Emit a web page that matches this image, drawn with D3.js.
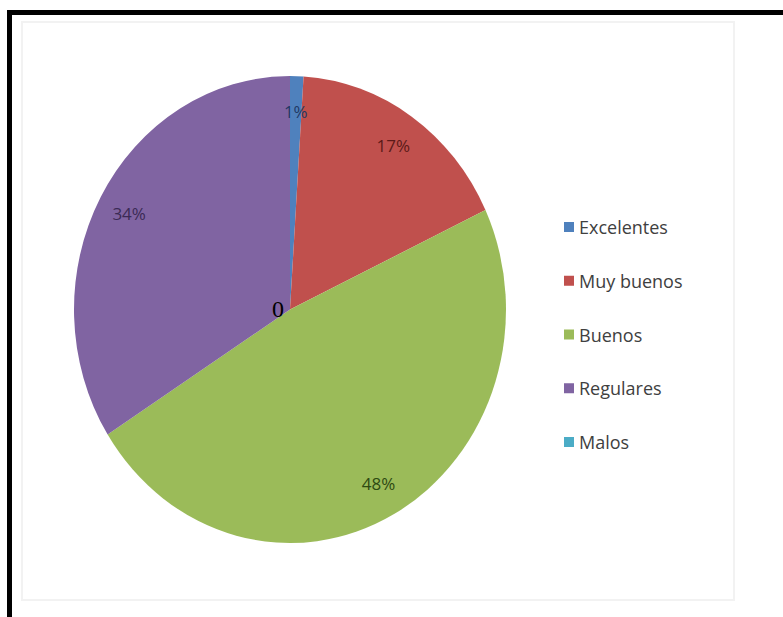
<!DOCTYPE html>
<html>
<head>
<meta charset="utf-8">
<script src="https://cdn.jsdelivr.net/npm/d3@7"></script>
<style>
  html, body { margin: 0; padding: 0; background: #fff; }
  svg { display: block; }
</style>
</head>
<body>
<svg id="chart" width="783" height="617"></svg>
<script>
// Calificaciones: categorías, porcentajes y colores
const categories = ["Excelentes", "Muy buenos", "Buenos", "Regulares", "Malos"];
const values = [1, 17, 48, 34, 0];
const labels = ["1%", "17%", "48%", "34%", "0"];
const colors = ["#4F81BD", "#C0504D", "#9BBB59", "#8064A2", "#4BACC6"];
const labelColors = ["#1F3864", "#5C1A18", "#2E4A12", "#3B2A55", "#000000"];

const svg = d3.select("#chart");

// Marco exterior
svg.append("path")
  .attr("d", "M9.5,617 L9.5,12.5 L783,12.5")
  .attr("fill", "none")
  .attr("stroke", "#000")
  .attr("stroke-width", 5);

// Borde tenue del área del gráfico
svg.append("rect")
  .attr("x", 22).attr("y", 22)
  .attr("width", 712).attr("height", 578)
  .attr("fill", "none")
  .attr("stroke", "#f2f2f2")
  .attr("stroke-width", 2);

// Pastel elíptico: radio vertical y escala horizontal
const cx = 290, cy = 309.5;
const ry = 233.5, rx = 216;
const sx = rx / ry;

const pie = d3.pie().sort(null).value(d => d.value);
const data = categories.map((c, i) => ({ cat: c, value: values[i], i }));
const arcs = pie(data);

const arc = d3.arc().innerRadius(0).outerRadius(ry);
const labelArc = d3.arc().innerRadius(ry * 0.85).outerRadius(ry * 0.85);

const g = svg.append("g").attr("transform", `translate(${cx},${cy})`);
g.append("g").attr("transform", `scale(${sx},1)`)
  .selectAll("path")
  .data(arcs.filter(a => a.data.value > 0))
  .join("path")
  .attr("d", arc)
  .attr("fill", d => colors[d.data.i]);

// Etiquetas de porcentaje
g.selectAll("text.pct")
  .data(arcs.filter(a => a.data.value > 0))
  .join("text")
  .attr("class", "pct")
  .attr("x", d => labelArc.centroid(d)[0] * sx)
  .attr("y", d => labelArc.centroid(d)[1])
  .attr("text-anchor", "middle")
  .attr("dominant-baseline", "central")
  .attr("font-family", "'Open Sans', 'Noto Sans', sans-serif")
  .attr("font-size", 17)
  .attr("fill", d => labelColors[d.data.i])
  .text(d => labels[d.data.i]);

// Etiqueta del valor nulo (Malos) junto al centro
arcs.filter(a => a.data.value === 0).forEach(d => {
  g.append("text")
    .attr("x", -12)
    .attr("y", -1)
    .attr("text-anchor", "middle")
    .attr("dominant-baseline", "central")
    .attr("font-family", "'Liberation Serif', 'DejaVu Serif', serif")
    .attr("font-size", 24)
    .attr("fill", labelColors[d.data.i])
    .text(labels[d.data.i]);
});

// Leyenda
const legendY = d3.scalePoint().domain(categories).range([227, 442]);
const legend = svg.append("g");
const item = legend.selectAll("g")
  .data(categories)
  .join("g")
  .attr("transform", d => `translate(564,${legendY(d)})`);
item.append("rect")
  .attr("x", 0).attr("y", -5)
  .attr("width", 10).attr("height", 10)
  .attr("fill", (d, i) => colors[i]);
item.append("text")
  .attr("x", 15).attr("y", 0)
  .attr("dominant-baseline", "central")
  .attr("font-family", "'Open Sans', 'Noto Sans', sans-serif")
  .attr("font-size", 18)
  .attr("fill", "#404040")
  .text(d => d);
</script>
</body>
</html>
